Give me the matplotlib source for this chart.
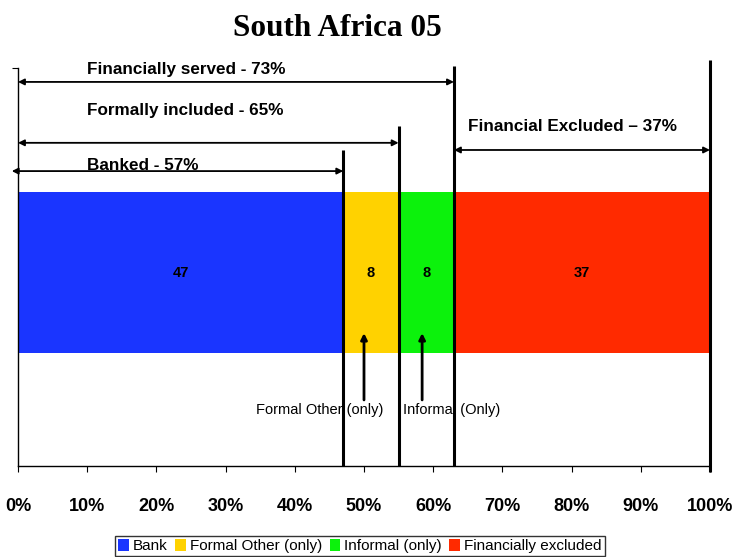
import matplotlib
matplotlib.use("Agg")
import matplotlib.pyplot as plt

categories = ["Bank", "Formal Other (only)", "Informal (only)", "Financially excluded"]
values = [47, 8, 8, 37]
colors = ["#1a35ff", "#ffd200", "#0cf20c", "#ff2a00"]
xtick_vals = [0, 10, 20, 30, 40, 50, 60, 70, 80, 90, 100]
xtick_labels = [f"{v}%" for v in xtick_vals]

plt.rcParams['font.family'] = ['Liberation Sans', 'DejaVu Sans']

fig = plt.figure(figsize=(7.36, 5.57), dpi=100)
ax = fig.add_axes([18/736, 1-466/557, 692/736, 398/557])
ax.set_xlim(0, 100)
ax.set_ylim(0, 1)

left = 0
bar_c, bar_h = 0.486, 0.404
for cat, v, c in zip(categories, values, colors):
    ax.barh(bar_c, v, left=left, height=bar_h, color=c, label=cat, edgecolor='none')
    ax.text(left + v/2, bar_c, str(v), ha='center', va='center', fontsize=10.5, fontweight='bold')
    left += v

cum = [values[0], values[0]+values[1], values[0]+values[1]+values[2], 100]
tops = [0.794, 0.854, 1.005, 1.02]
bottoms = [0, 0, 0, -0.015]
for xv, t, b in zip(cum, tops, bottoms):
    ax.plot([xv, xv], [b, t], color='black', lw=2.2, clip_on=False, solid_capstyle='butt')

def darrow(x0, x1, y):
    ax.annotate('', xy=(x1, y), xytext=(x0, y),
                arrowprops=dict(arrowstyle='<|-|>', color='black', lw=1.3,
                                mutation_scale=9, shrinkA=0, shrinkB=0),
                annotation_clip=False)

darrow(0, cum[2], 0.965)
darrow(0, cum[1], 0.812)
darrow(-0.9, cum[0], 0.741)
darrow(cum[2], 100, 0.794)

fs = 12.3
ax.text(10, 0.997, "Financially served - 73%", fontsize=fs, fontweight='bold', va='center')
ax.text(10, 0.894, "Formally included - 65%", fontsize=fs, fontweight='bold', va='center')
ax.text(10, 0.756, "Banked - 57%", fontsize=fs, fontweight='bold', va='center')
ax.text(65, 0.852, "Financial Excluded \u2013 37%", fontsize=fs, fontweight='bold', va='center')

for xv in [50, 58.4]:
    ax.annotate('', xy=(xv, 0.334), xytext=(xv, 0.166),
                arrowprops=dict(arrowstyle='-|>', color='black', lw=2,
                                mutation_scale=9, shrinkA=0, shrinkB=0))
ax.text(43.6, 0.141, "Formal Other (only)", fontsize=10.5, ha='center', va='center')
ax.text(62.6, 0.141, "Informal (Only)", fontsize=10.5, ha='center', va='center')

ax.set_xticks(xtick_vals)
ax.set_xticklabels(xtick_labels, fontsize=13, fontweight='bold')
ax.tick_params(axis='x', direction='out', length=4, pad=19)
ax.set_yticks([1])
ax.set_yticklabels([''])
ax.tick_params(axis='y', direction='out', length=4)
for s in ['top', 'right']:
    ax.spines[s].set_visible(False)
ax.spines['left'].set_linewidth(1)
ax.spines['bottom'].set_linewidth(1)

fig.text(0.458, 0.949, "South Africa 05", fontsize=22.5, fontweight='bold',
         family='Liberation Serif', ha='center', va='center')

leg = fig.legend(loc='lower center', bbox_to_anchor=(0.489, 0.0), ncol=4, fontsize=11,
                 frameon=True, fancybox=False, edgecolor='black', handlelength=0.7,
                 handleheight=0.9, handletextpad=0.25, columnspacing=0.5, borderpad=0.2,
                 borderaxespad=0.05)
leg.get_frame().set_linewidth(1)

fig.savefig("out.png", dpi=100)
